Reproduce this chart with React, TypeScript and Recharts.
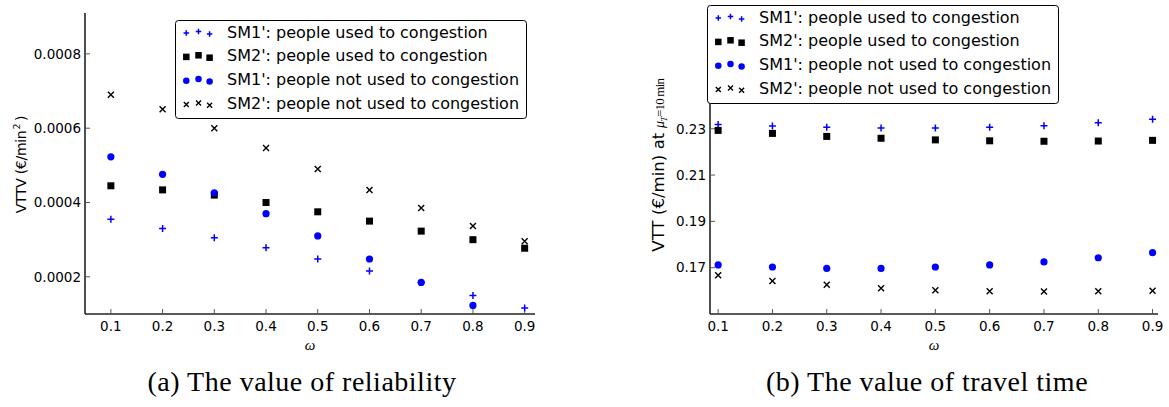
import React from 'react';
import { ScatterChart, Scatter, XAxis, YAxis, Legend, Label } from 'recharts';

const omega = [0.1, 0.2, 0.3, 0.4, 0.5, 0.6, 0.7, 0.8, 0.9];

const seriesNames = [
  "SM1': people used to congestion",
  "SM2': people used to congestion",
  "SM1': people not used to congestion",
  "SM2': people not used to congestion",
];

// (a) value of reliability (VTTV)
const vttvSm1Used = [0.000355, 0.00033, 0.000305, 0.000278, 0.000248, 0.000216, 0.000185, 0.00015, 0.000116];
const vttvSm2Used = [0.000445, 0.000434, 0.00042, 0.0004, 0.000375, 0.00035, 0.000323, 0.0003, 0.000277];
const vttvSm1Not = [0.000523, 0.000476, 0.000426, 0.00037, 0.00031, 0.000248, 0.000185, 0.000123, null];
const vttvSm2Not = [0.00069, 0.000651, 0.0006, 0.000547, 0.00049, 0.000434, 0.000385, 0.000337, 0.000296];

// (b) value of travel time (VTT)
const vttSm1Used = [0.2318, 0.2312, 0.2307, 0.2303, 0.2303, 0.2307, 0.2313, 0.2326, 0.2341];
const vttSm2Used = [0.2293, 0.228, 0.2267, 0.2259, 0.2252, 0.2248, 0.2246, 0.2247, 0.225];
const vttSm1Not = [0.1712, 0.1703, 0.1697, 0.1697, 0.1703, 0.1712, 0.1725, 0.1743, 0.1765];
const vttSm2Not = [0.1667, 0.1643, 0.1626, 0.1611, 0.1603, 0.1598, 0.1597, 0.1598, 0.16];

const vttvTicks = [0.0002, 0.0004, 0.0006, 0.0008];
const vttTicks = [0.17, 0.19, 0.21, 0.23];
const captions = ['(a) The value of reliability', '(b) The value of travel time'];

const BLUE = '#0000ff';
type Kind = 'plus' | 'square' | 'circle' | 'x';
const kinds: Kind[] = ['plus', 'square', 'circle', 'x'];
const colors = [BLUE, '#000000', BLUE, '#000000'];
const plotSizes = [7, 7, 7.2, 6];
const legendSizes = [5.5, 6.5, 6.5, 5];

const SANS = 'DejaVu Sans';
const SERIF = 'Liberation Serif';

function Marker({ kind, cx, cy, size, color }: { kind: Kind; cx: number; cy: number; size: number; color: string }) {
  const h = size / 2;
  if (kind === 'plus')
    return <path d={`M${cx - h},${cy}H${cx + h}M${cx},${cy - h}V${cy + h}`} stroke={color} strokeWidth={1.5} fill="none" />;
  if (kind === 'square') return <rect x={cx - h} y={cy - h} width={size} height={size} fill={color} />;
  if (kind === 'circle') return <circle cx={cx} cy={cy} r={h} fill={color} />;
  return (
    <path
      d={`M${cx - h},${cy - h}L${cx + h},${cy + h}M${cx - h},${cy + h}L${cx + h},${cy - h}`}
      stroke={color}
      strokeWidth={1.4}
      fill="none"
    />
  );
}

const toPoints = (vals: (number | null)[]) =>
  omega.map((x, i) => ({ x, y: vals[i] })).filter((p) => p.y !== null && p.y !== undefined);

function LegendBox({ width, height }: { width: number; height: number }) {
  const rowY = [17.5, 41.3, 65.1, 88.9];
  const mx = [11.3, 23.5, 34.6];
  const off = [0.6, -1, 1.4];
  return (
    <svg width={width} height={height} style={{ display: 'block', overflow: 'visible' }}>
      <rect x={0.5} y={0.5} width={width - 1} height={height - 1} rx={3} fill="#ffffff" stroke="#000000" strokeWidth={1} />
      {seriesNames.map((n, i) => (
        <g key={i}>
          {mx.map((x, j) => (
            <Marker key={j} kind={kinds[i]} cx={x} cy={rowY[i] - 5 + off[j]} size={legendSizes[i]} color={colors[i]} />
          ))}
          <text x={52} y={rowY[i]} fontSize={16} fontFamily={SANS} fill="#000">
            {n}
          </text>
        </g>
      ))}
    </svg>
  );
}

type PanelProps = {
  left: number;
  width: number;
  yAxisWidth: number;
  marginRight: number;
  xDomain: [number, number];
  yDomain: [number, number];
  yTicks: number[];
  yFmt: (v: number) => string;
  series: (number | null)[][];
  legendLeft: number;
  legendTop: number;
  yLabel: (vb: any) => React.ReactNode;
};

function Panel(p: PanelProps) {
  return (
    <div style={{ position: 'absolute', left: p.left, top: 0 }}>
      <ScatterChart width={p.width} height={360} margin={{ top: 13, right: p.marginRight, left: 0, bottom: 0 }}>
        <XAxis
          type="number"
          dataKey="x"
          domain={p.xDomain}
          ticks={omega}
          allowDataOverflow
          height={46}
          tickSize={-5}
          tickMargin={12}
          tickFormatter={(v: number) => v.toFixed(1)}
          axisLine={{ stroke: '#222', strokeWidth: 1.6 }}
          tickLine={{ stroke: '#555', strokeWidth: 1 }}
          tick={{ fill: '#000', fontSize: 13.5, fontFamily: SANS }}
        >
          <Label
            content={(props: any) => {
              const vb = props.viewBox || {};
              return (
                <text
                  x={vb.x + vb.width / 2}
                  y={vb.y + 36}
                  textAnchor="middle"
                  fontFamily={SERIF}
                  fontStyle="italic"
                  fontSize={15}
                  fill="#000"
                >
                  ω
                </text>
              );
            }}
          />
        </XAxis>
        <YAxis
          type="number"
          dataKey="y"
          domain={p.yDomain}
          ticks={p.yTicks}
          allowDataOverflow
          width={p.yAxisWidth}
          tickSize={-5}
          tickMargin={9}
          tickFormatter={p.yFmt}
          axisLine={{ stroke: '#222', strokeWidth: 1.6 }}
          tickLine={{ stroke: '#555', strokeWidth: 1 }}
          tick={{ fill: '#000', fontSize: 13.5, fontFamily: SANS }}
        >
          <Label content={(props: any) => p.yLabel(props.viewBox || {})} />
        </YAxis>
        {p.series.map((vals, i) => (
          <Scatter
            key={i}
            name={seriesNames[i]}
            data={toPoints(vals)}
            fill={colors[i]}
            isAnimationActive={false}
            shape={(sp: any) => <Marker kind={kinds[i]} cx={sp.cx} cy={sp.cy} size={plotSizes[i]} color={colors[i]} />}
          />
        ))}
        <Legend
          layout="horizontal"
          verticalAlign="middle"
          align="center"
          wrapperStyle={{ position: 'absolute', left: p.legendLeft, top: p.legendTop, width: 352, height: 99 }}
          content={() => <LegendBox width={352} height={99} />}
        />
      </ScatterChart>
    </div>
  );
}

const rot = (x: number, y: number) => `rotate(-90, ${x}, ${y})`;

function VText(props: {
  x: number;
  y: number;
  size: number;
  family?: string;
  italic?: boolean;
  len?: number;
  children: React.ReactNode;
}) {
  return (
    <text
      x={props.x}
      y={props.y}
      transform={rot(props.x, props.y)}
      textAnchor="start"
      fontFamily={props.family || SANS}
      fontStyle={props.italic ? 'italic' : 'normal'}
      fontSize={props.size}
      fill="#000"
      textLength={props.len}
    >
      {props.children}
    </text>
  );
}

export default function App() {
  return (
    <div
      style={{
        position: 'absolute',
        left: 0,
        top: 0,
        width: 1169,
        height: 407,
        background: '#ffffff',
        overflow: 'hidden',
      }}
    >
      <Panel
        left={0}
        width={540}
        yAxisWidth={85}
        marginRight={5}
        xDomain={[0.05, 0.92]}
        yDomain={[0.0001, 0.00091]}
        yTicks={vttvTicks}
        yFmt={(v) => v.toFixed(4)}
        series={[vttvSm1Used, vttvSm2Used, vttvSm1Not, vttvSm2Not]}
        legendLeft={174.7}
        legendTop={20}
        yLabel={(vb) => {
          const bx = vb.x + 26;
          const mid = vb.y + vb.height / 2;
          return (
            <g>
              <VText x={bx} y={mid + 49.8} size={14} len={83}>
                VTTV (€/min
              </VText>
              <VText x={bx - 6} y={mid - 34} size={9.5}>
                2
              </VText>
              <VText x={bx} y={mid - 42.5} size={14}>
                )
              </VText>
            </g>
          );
        }}
      />
      <Panel
        left={600}
        width={565}
        yAxisWidth={110}
        marginRight={7}
        xDomain={[0.085, 0.91]}
        yDomain={[0.15, 0.28]}
        yTicks={vttTicks}
        yFmt={(v) => v.toFixed(2)}
        series={[vttSm1Used, vttSm2Used, vttSm1Not, vttSm2Not]}
        legendLeft={107}
        legendTop={4.7}
        yLabel={(vb) => {
          const bx = vb.x + 64;
          const mid = vb.y + vb.height / 2;
          return (
            <g>
              <VText x={bx} y={mid + 88.2} size={16.5} len={119}>
                VTT (€/min) at
              </VText>
              <VText x={bx} y={mid - 35.5} size={14} family={SERIF} italic>
                μ
              </VText>
              <VText x={bx + 3} y={mid - 42} size={9} family={SERIF} italic>
                T
              </VText>
              <VText x={bx} y={mid - 46.5} size={13} family={SERIF} len={39}>
                =10 min
              </VText>
            </g>
          );
        }}
      />
      <svg width={1169} height={407} style={{ position: 'absolute', left: 0, top: 0, pointerEvents: 'none' }}>
        <text x={302} y={391} textAnchor="middle" fontFamily={SERIF} fontSize={28} letterSpacing={0.5} fill="#000">
          {captions[0]}
        </text>
        <text x={927} y={391} textAnchor="middle" fontFamily={SERIF} fontSize={28} letterSpacing={0.5} fill="#000">
          {captions[1]}
        </text>
      </svg>
    </div>
  );
}
